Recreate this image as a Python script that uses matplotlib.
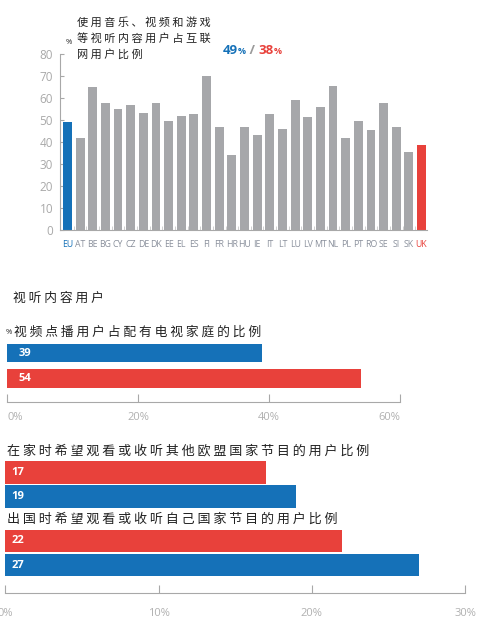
import matplotlib
matplotlib.use("Agg")
import matplotlib.pyplot as plt
import numpy as np

plt.rcParams['font.family'] = ['Noto Sans CJK SC', 'DejaVu Sans']

# ---------------- data ----------------
countries = ["EU", "AT", "BE", "BG", "CY", "CZ", "DE", "DK", "EE", "EL", "ES", "FI", "FR", "HR",
             "HU", "IE", "IT", "LT", "LU", "LV", "MT", "NL", "PL", "PT", "RO", "SE", "SI", "SK", "UK"]
av_share = [49, 42, 65, 57.5, 55, 57, 53, 57.5, 49.5, 52, 52.5, 70, 47, 34,
            47, 43, 52.5, 46, 59, 51.5, 56, 65.5, 42, 49.5, 45.5, 57.5, 47, 35.5, 38.5]
headline_eu = "49"
headline_uk = "38"

vod_labels = ["EU", "UK"]
vod_values = [39, 54]

cross_labels = ["EU-home-UK", "EU-home-EU", "abroad-UK", "abroad-EU"]
cross_values = [17, 19, 22, 27]

title_top = ["使用音乐、视频和游戏", "等视听内容用户占互联", "网用户比例"]
section_title = "视听内容用户"
sub1 = "视频点播用户占配有电视家庭的比例"
sub2 = "在家时希望观看或收听其他欧盟国家节目的用户比例"
sub3 = "出国时希望观看或收听自己国家节目的用户比例"
ticks1 = [0, 20, 40, 60]
ticks2 = [0, 10, 20, 30]

# ---------------- style ----------------
BLUE = "#1571b8"
RED = "#e8413b"
GREY = "#a6a7aa"
AXC = "#a8a8a8"
TXT = "#222222"
NUMF = ['Open Sans', 'DejaVu Sans']

W, H = 480, 624
fig = plt.figure(figsize=(W / 100, H / 100), dpi=100)
renderer = fig.canvas.get_renderer()


def px_axes(left, top, right, bottom):
    return fig.add_axes([left / W, 1 - bottom / H, (right - left) / W, (bottom - top) / H])


def spaced(s):
    return " ".join(list(s))


def ftext(x, y, s, **kw):
    return fig.text(x / W, 1 - y / H, s, **kw)


# ---------------- top chart ----------------
ax1 = px_axes(60, 54, 427, 230)
xpos = np.arange(len(countries))
colors = [BLUE if c == "EU" else RED if c == "UK" else GREY for c in countries]
ax1.bar(xpos, av_share, width=0.7, color=colors, zorder=2)
ax1.set_xlim(-0.59, len(countries) - 1 + 0.43)
ax1.set_ylim(0, 80)
ax1.set_yticks(range(0, 81, 10))
ax1.tick_params(axis='y', direction='in', length=3, width=0.8, color=AXC,
                labelsize=8.5, labelcolor="#a9a9a9", pad=5)
for lab in ax1.get_yticklabels():
    lab.set_family(NUMF)
ax1.set_xticks(xpos)
ax1.set_xticklabels(countries, fontsize=6.3, family=NUMF)
ax1.tick_params(axis='x', length=0, pad=7)
for lab, c in zip(ax1.get_xticklabels(), countries):
    lab.set_color(BLUE if c == "EU" else RED if c == "UK" else "#8a909c")
ax1.set_xticks(xpos[:-1] + 0.5, minor=True)
ax1.tick_params(axis='x', which='minor', direction='in', length=3, width=0.7, color="#d0d0d0")
for s in ["top", "right"]:
    ax1.spines[s].set_visible(False)
for s in ["left", "bottom"]:
    ax1.spines[s].set_color(AXC)
    ax1.spines[s].set_linewidth(0.8)

for i, line in enumerate(title_top):
    ftext(77, 22 + 16 * i, spaced(line), fontsize=8, color=TXT, va='center', ha='left')
ftext(66, 43, "%", fontsize=5.5, color=TXT, va='center', ha='left', family=NUMF)

# headline "49% / 38%", pieces chained left to right
parts = [(headline_eu, BLUE, 9.5), ("%", BLUE, 6.5), (" / ", "#9a9a9a", 9.5),
         (headline_uk, RED, 9.5), ("%", RED, 6.5)]
x_cur = 223
base_y = 54
for s, c, fs in parts:
    tt = ftext(x_cur, base_y, s, fontsize=fs, color=c, weight='bold', family=NUMF,
               ha='left', va='baseline')
    bb = tt.get_window_extent(renderer)
    x_cur = bb.x1

# ---------------- section title ----------------
ftext(13, 298, spaced(section_title), fontsize=9.2, color=TXT, va='center', ha='left')

# ---------------- VOD chart ----------------
ftext(6, 332, "%", fontsize=5.5, color=TXT, va='center', ha='left', family=NUMF)
ftext(14, 332, spaced(sub1), fontsize=9.2, color=TXT, va='center', ha='left')

ax2 = px_axes(7, 340, 400, 402)
ypos2 = np.arange(len(vod_values))
ax2.barh(ypos2, vod_values, height=0.73, color=[BLUE, RED])
ax2.set_xlim(0, 60)
ax2.set_ylim(1.92, -0.51)
ax2.set_yticks([])
ax2.set_xticks(ticks1)
ax2.set_xticklabels([f"{v}%" for v in ticks1], family=NUMF)
ax2.tick_params(axis='x', direction='in', length=6, width=0.8, color=AXC, labelsize=8,
                labelcolor="#b0b0b0", pad=7)
xl = ax2.get_xticklabels()
xl[0].set_ha('left')
xl[-1].set_ha('right')
for s in ["top", "right", "left"]:
    ax2.spines[s].set_visible(False)
ax2.spines["bottom"].set_color(AXC)
ax2.spines["bottom"].set_linewidth(0.8)
for y, v in zip(ypos2, vod_values):
    ax2.annotate(f"{v:g}", xy=(0, y), xytext=(8.5, 0), textcoords='offset points',
                 ha='left', va='center', color='white', weight='bold', fontsize=8, family=NUMF)

# ---------------- cross-border chart ----------------
ftext(7, 451, spaced(sub2), fontsize=9.4, color=TXT, va='center', ha='left')
ftext(7, 519, spaced(sub3), fontsize=9.4, color=TXT, va='center', ha='left')

ax3 = px_axes(5.3, 455, 465, 593)
ypos3 = [0, 1, 2.85, 3.87]
ax3.barh(ypos3, cross_values, height=0.93, color=[RED, BLUE, RED, BLUE])
ax3.set_xlim(0, 30)
ax3.set_ylim(5.03, -0.73)
ax3.set_yticks([])
ax3.set_xticks(ticks2)
ax3.set_xticklabels([f"{v}%" for v in ticks2], family=NUMF)
ax3.tick_params(axis='x', direction='in', length=6, width=0.8, color=AXC, labelsize=8,
                labelcolor="#b0b0b0", pad=11)
for s in ["top", "right", "left"]:
    ax3.spines[s].set_visible(False)
ax3.spines["bottom"].set_color(AXC)
ax3.spines["bottom"].set_linewidth(0.8)
for y, v in zip(ypos3, cross_values):
    ax3.annotate(f"{v:g}", xy=(0, y), xytext=(4.6, 0), textcoords='offset points',
                 ha='left', va='center', color='white', weight='bold', fontsize=8, family=NUMF)

fig.savefig("out.png", dpi=100)
